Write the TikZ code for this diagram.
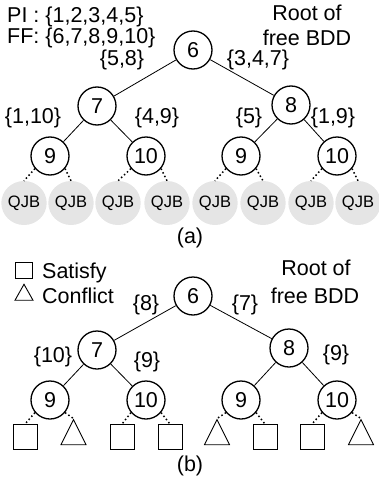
\documentclass[tikz,border=0pt]{standalone}
\usepackage{fontspec}
\setmainfont{Liberation Sans}
\usetikzlibrary{shapes.geometric}
\begin{document}
\begin{tikzpicture}[x=1pt,y=-1pt,
  bdd/.style={circle,draw,line width=1.3pt,minimum size=38pt,inner sep=0pt,font=\fontsize{21.5}{24}\selectfont},
  lbl/.style={font=\fontsize{21.5}{24}\selectfont,inner sep=0pt,anchor=base},
  lblw/.style={font=\fontsize{21.5}{24}\selectfont,inner sep=0pt,anchor=base west},
  qjb/.style={ellipse,fill=black!10,minimum width=38pt,minimum height=44pt,inner sep=0pt,font=\fontsize{16.5}{18}\selectfont},
  sat/.style={rectangle,draw,line width=0.9pt,minimum width=24pt,minimum height=25pt,inner sep=0pt},
  con/.style={isosceles triangle,isosceles triangle stretches,shape border rotate=90,draw,line width=0.9pt,minimum width=25pt,minimum height=25pt,inner sep=0pt},
  tedge/.style={line width=0.8pt},
  dedge/.style={line width=1.5pt,dash pattern=on 1.5pt off 2.5pt}
]
\useasboundingbox (0,0) rectangle (378,479);
% ---------- (a) ----------
\node[lblw] (pi) at (7,22) {PI : \{1,2,3,4,5\}};
\node[lblw] (ff) at (7,43) {FF: \{6,7,8,9,10\}};
\node[lbl] (ra1) at (307,20) {Root of};
\node[lbl] (ra2) at (307,45) {free BDD};
\node[bdd] (a6) at (193,50) {6};
\node[bdd] (a7) at (97,106) {7};
\node[bdd] (a8) at (291,105) {8};
\node[bdd] (a9) at (50,156) {9};
\node[bdd] (a10) at (146,156) {10};
\node[bdd] (a9r) at (241,156) {9};
\node[bdd] (a10r) at (337,156) {10};
\node[lbl] (la58) at (122,65) {\{5,8\}};
\node[lbl] (la347) at (258,65) {\{3,4,7\}};
\node[lbl] (la110) at (33,123) {\{1,10\}};
\node[lbl] (la49) at (157,123) {\{4,9\}};
\node[lbl] (la5) at (249,123) {\{5\}};
\node[lbl] (la19) at (333,123) {\{1,9\}};
\foreach \i/\x in {1/24,2/71,3/118,4/167,5/215,6/263,7/311,8/358}
  \node[qjb] (q\i) at (\x,203) {QJB};
\draw[tedge] (a6) -- (a7);
\draw[tedge] (a6) -- (a8);
\draw[tedge] (a7) -- (a9);
\draw[tedge] (a7) -- (a10);
\draw[tedge] (a8) -- (a9r);
\draw[tedge] (a8) -- (a10r);
\draw[dedge] (a9.-140) -- (q1.north);
\draw[dedge] (a9.-40) -- (q2.north);
\draw[dedge] (a10.-140) -- (q3.north);
\draw[dedge] (a10.-40) -- (q4.north);
\draw[dedge] (a9r.-140) -- (q5.north);
\draw[dedge] (a9r.-40) -- (q6.north);
\draw[dedge] (a10r.-140) -- (q7.north);
\draw[dedge] (a10r.-40) -- (q8.north);
\node[lbl] (capa) at (190,243) {(a)};
% ---------- (b) ----------
\node[sat,minimum width=17pt,minimum height=16pt] (legs) at (24,270) {};
\node[lblw] (legst) at (42,278) {Satisfy};
\node[con,minimum width=18pt,minimum height=16pt] (legc) at (24,295) {};
\node[lblw] (legct) at (42,303) {Conflict};
\node[lbl] (rb1) at (316,275) {Root of};
\node[lbl] (rb2) at (315,303) {free BDD};
\node[bdd] (b6) at (193,296) {6};
\node[bdd] (b7) at (97,350) {7};
\node[bdd] (b8) at (289,348) {8};
\node[bdd] (b9) at (50,400) {9};
\node[bdd] (b10) at (146,400) {10};
\node[bdd] (b9r) at (241,400) {9};
\node[bdd] (b10r) at (337,400) {10};
\node[lbl] (lb8) at (146,310) {\{8\}};
\node[lbl] (lb7) at (245,310) {\{7\}};
\node[lbl] (lb10) at (53,362) {\{10\}};
\node[lbl] (lb9) at (147,367) {\{9\}};
\node[lbl] (lb9r) at (336,360) {\{9\}};
\node[sat] (l1) at (25,437) {};
\node[con] (l2) at (73.5,437) {};
\node[sat] (l3) at (122,437) {};
\node[sat] (l4) at (170,437) {};
\node[con] (l5) at (217,437) {};
\node[sat] (l6) at (265,437) {};
\node[sat] (l7) at (312,437) {};
\node[con] (l8) at (361,437) {};
\draw[tedge] (b6) -- (b7);
\draw[tedge] (b6) -- (b8);
\draw[tedge] (b7) -- (b9);
\draw[tedge] (b7) -- (b10);
\draw[tedge] (b8) -- (b9r);
\draw[tedge] (b8) -- (b10r);
\draw[dedge] (b9.-140) -- (l1.north);
\draw[dedge] (b9.-40) -- (l2.north);
\draw[dedge] (b10.-140) -- (l3.north);
\draw[dedge] (b10.-40) -- (l4.north);
\draw[dedge] (b9r.-140) -- (l5.north);
\draw[dedge] (b9r.-40) -- (l6.north);
\draw[dedge] (b10r.-140) -- (l7.north);
\draw[dedge] (b10r.-40) -- (l8.north);
\node[lbl] (capb) at (190,471) {(b)};
\end{tikzpicture}
\end{document}
